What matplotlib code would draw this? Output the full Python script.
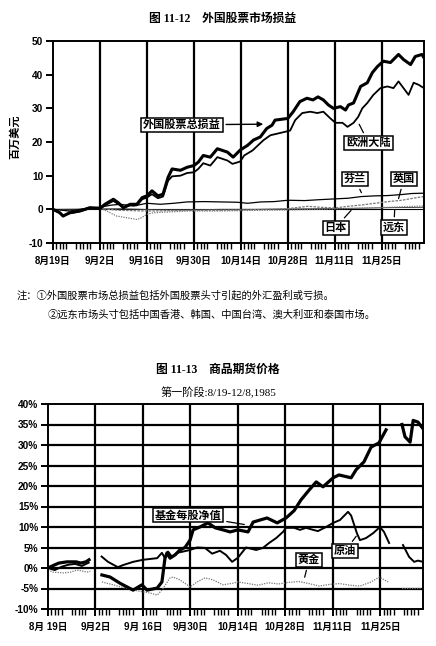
import numpy as np
import matplotlib
matplotlib.use("Agg")
import matplotlib.pyplot as plt

plt.rcParams['font.family'] = ['Liberation Sans', 'Noto Sans CJK SC']
plt.rcParams['axes.unicode_minus'] = False

# ---- 图 11-12 外国股票市场损益 (x = 自8月19日起的天数, 百万美元) ----
total_days = [0, 2, 3, 5, 8, 11, 14, 15.5, 18, 19.4, 21, 23, 25, 26.6, 28, 29.5, 31.3, 32.8, 34.3, 35.5,
              38, 40, 42, 43.3, 44.8, 46.9, 49, 52, 53.7, 55.8, 58, 59.8, 61.8, 63.7, 65.3, 66.2, 70,
              71.6, 73.6, 75.7, 77.5, 79, 80.6, 82.1, 83.6, 85.7, 87.2, 88.1, 89.6, 91.7, 93.7, 95.2,
              96.7, 98.5, 100.6, 103, 104.5, 106.6, 108, 110, 110.6]
total_vals = [0, -1, -2, -1, -0.5, 0.5, 0.3, 1.5, 3.0, 2, 0.5, 1.5, 1.5, 3.5, 4, 5.5, 4, 4.5, 9.5, 12,
              11.6, 12.5, 13, 14, 16, 15.5, 18, 17, 15.5, 17.6, 19, 20.6, 21.5, 24, 25, 26.5, 27,
              29, 32, 33, 32.5, 33.4, 32.5, 31, 30, 30.5, 29.5, 31, 31.6, 36.5, 37.6, 40.6,
              42.4, 44, 43.6, 46, 44.5, 43, 45.4, 46, 45]

europe_days = [0, 2, 3, 5, 8, 11, 14, 15.5, 18, 19.4, 21, 23, 25, 26.6, 28, 29.5, 31.3, 32.8, 34.3, 35.5,
               38, 40, 42, 43.3, 44.8, 46.9, 49, 52, 53.5, 55.8, 57, 59.5, 62.7, 64.8, 67.8, 70.7,
               72.2, 74.3, 76.7, 78.8, 80.6, 82.7, 84.2, 86.3, 87.8, 89.6, 91, 92.2, 93.7, 95.5,
               97.6, 99.7, 101.5, 103, 104.5, 106, 107.5, 109, 110.6]
europe_vals = [0, -1, -1.8, -1.2, -0.6, 0.3, 0.2, 1.2, 2.5, 1.6, 0.5, 1.2, 1.2, 3.0, 3.5, 4.5, 3.3, 3.8, 8.5, 9.8,
               10, 10.8, 11, 12, 13.7, 13, 15.5, 14.5, 13.5, 14.2, 16, 17.5, 20.5, 22, 22.7, 23.4,
               26.5, 28.6, 29, 28.6, 29, 27, 25.7, 25.7, 24.5, 25.7, 27.5, 30, 31.6, 34,
               36, 36.5, 36, 38, 36, 34, 37.6, 37, 36]

finland_days = [0, 5, 10, 14, 17, 20, 24, 28, 32, 36, 40, 45, 50, 55, 58, 62, 66, 70, 75, 80, 84, 88,
                92, 96, 100, 104, 107, 110.6]
finland_vals = [0, -0.5, 0.3, 0.6, 1.2, 1.5, 1.0, 1.8, 1.5, 1.8, 2.2, 2.3, 2.2, 2.1, 1.8, 2.2, 2.3, 2.7,
                2.6, 2.9, 3.1, 3.3, 3.8, 4.0, 4.1, 4.4, 4.7, 4.8]

uk_days = [14, 20, 28, 34, 40, 48, 56, 64, 70, 76, 80, 84, 88, 92, 96, 100, 104, 108, 110.6]
uk_vals = [0.2, -0.3, -0.5, -0.4, -0.3, -0.3, -0.2, 0.0, 0.2, 0.9, 0.6, 0.4, 0.9, 1.3, 1.8, 2.3, 2.7, 3.4, 3.8]

japan_days = [0, 5, 10, 14, 16, 19, 22, 25, 26, 28, 30, 34, 40, 50, 60, 70, 80, 90, 100, 110.6]
japan_vals = [0, -0.5, 0.3, 0.3, -0.5, -2, -2.5, -3, -2.7, -1.5, -1, -0.8, -0.5, -0.5, -0.3, -0.2, 0.0, 0.3, 0.6, 1.0]

fareast_days = [0, 10, 20, 30, 40, 50, 60, 70, 80, 90, 100, 110.6]
fareast_vals = [0, 0.1, 0.2, -0.1, -0.2, 0.0, 0.0, 0.1, 0.2, 0.3, 0.5, 0.6]

# ---- 图 11-13 商品期货价格 (%), None = 断开 ----
nav_days = [0, 1.8, 3.2, 5.6, 8.3, 9.7, 11.2, 12.1, 14,
            15.9, 18.3, 21.2, 25.1, 27.7, 29.2, 32.2, 33.6, 34.5, 35.1, 36, 37.5, 38.9, 40.4, 41.9,
            42.8, 44.8, 47.2, 49.3, 51.6, 53.7, 56, 59, 60.5, 64.6, 67.6, 70.2, 72.6, 74.6, 77,
            79.1, 81.1, 84.1, 85.8, 89.4, 90.9, 93.2, 95.3, 97.6, 99.7, 102,
            104.4, 105.3, 106.8, 107.7, 109.1, 110.6]
nav_vals = [0, 0.7, 1.2, 1.5, 1.5, 1.2, 1.5, 2, None,
            -1.7, -2.2, -3.7, -5.4, -4.1, -5.4, -4.9, -3.4, 2.4, 3.7, 2.4, 3.2, 4.4, 5, 6.8,
            9.3, 10, 11, 9.8, 9.3, 8.8, 9.3, 8.8, 11.2, 12.2, 11, 12.2, 14, 16.6, 19,
            21, 19.8, 22, 22.7, 22, 24, 25.9, 29.5, 30.5, 33.7, None,
            35, 32, 30.7, 36, 35.6, 34]

oil_days = [0, 2, 4, 6, 8, 10, 12, 14,
            15.8, 17.7, 20.6, 22.1, 25.1, 28, 32.2, 33.6, 34.5, 35.4, 36.6, 38, 39.8, 41.9, 44,
            46.3, 48.4, 50.7, 52.5, 54.3, 56, 58.4, 61.4, 63.4, 65.2, 67.3, 69.3, 70.2, 72.6, 74.3,
            76.1, 78.2, 79.6, 82, 84.1, 86.1, 88.5, 89.4, 91.1, 92, 93.8, 95.9, 97.9, 99.1, 100.6, 102,
            104.7, 106.5, 108, 109.1, 110.6]
oil_vals = [0, -0.5, 0.3, 0.8, 1.0, 0.5, 1.3, None,
            2.8, 1.5, 0.2, 0.7, 1.5, 2, 2.4, 3.7, 2.4, 4, 2.7, 3.7, 4, 4.4, 5.0,
            4.9, 3.5, 4.2, 3.2, 1.5, 2.5, 5.0, 4.4, 4.9, 6.1, 7.3, 8.8, 9.8, 9.8, 9.3,
            9.8, 9.3, 9.0, 10, 11, 11.7, 13.7, 12.8, 8.5, 6.8, 7.3, 8.5, 10, 8.8, 6.1, None,
            5.6, 2.7, 1.5, 1.8, 1.5]

gold_days = [0, 1.5, 4.6, 6.7, 8.6, 11.5, 12.5, 14,
             15.9, 19.2, 25.1, 30.1, 32.2, 33.6, 36, 36.9, 38.9, 41.9, 44, 46.3, 48.7, 51.6, 54.6,
             56, 59, 62, 65, 68, 71, 74, 77, 80, 83, 86, 89, 92, 95, 97.8, 99, 100.3, 102,
             104.4, 107, 110.6]
gold_vals = [-0.5, -1, -1.2, -1, -0.5, -1.0, -0.8, None,
             -3.4, -4.1, -5.4, -6.1, -6.6, -5.4, -2.4, -2.2, -2.9, -4.6, -3.4, -2.4, -2.9, -4.1, -3.7,
             -3.4, -3.8, -4.2, -3.6, -3.9, -3.5, -3.3, -3.8, -4.4, -4.0, -3.8, -4.2, -4.4, -3.5, -2.2, -2.8, -3.4, None,
             -5, -5, -5]

top_yticks = [-10, 0, 10, 20, 30, 40, 50]
bottom_yticks = [-10, -5, 0, 5, 10, 15, 20, 25, 30, 35, 40]
top_xlabels = ['8月19日', '9月2日', '9月16日', '9月30日', '10月14日', '10月28日', '11月11日', '11月25日']
bottom_xlabels = ['8月 19日', '9月2日', '9月 16日', '9月30日', '10月14日', '10月28日', '11月11日', '11月25日']

XMAX = 110.6
W, H = 436, 646
serif_cjk = ['Liberation Serif', 'Noto Sans CJK SC']
box = dict(boxstyle='square,pad=0.18', fc='white', ec='black', lw=1.1)


def setup_dates(ax, labels):
    ax.set_xlim(0, XMAX)
    ax.set_xticks(np.arange(0, 112, 14))
    ax.set_xticklabels(labels, fontsize=7, fontweight='bold')
    weekdays = [d for d in range(0, 111) if d % 7 < 5]
    ax.set_xticks(weekdays, minor=True)
    ax.tick_params(axis='x', which='major', length=5, width=1.4, pad=4)
    ax.tick_params(axis='x', which='minor', length=4, width=1.0)
    ax.tick_params(axis='y', length=5, width=1.4, pad=2, labelsize=7.3)
    for s in ax.spines.values():
        s.set_linewidth(1.4)
    for lab in ax.get_yticklabels():
        lab.set_fontweight('bold')


fig = plt.figure(figsize=(W / 100, H / 100), dpi=100)

# ================= 图 11-12 =================
ax1 = fig.add_axes([53 / W, 1 - 243 / H, 371 / W, 202 / H])
ax1.set_ylim(-10, 50)
ax1.set_yticks(top_yticks)
setup_dates(ax1, top_xlabels)
for d in range(14, 111, 14):
    ax1.axvline(d, color='black', lw=1.6, zorder=1)
ax1.axhline(0, color='black', lw=0.8, zorder=1)

ax1.plot(fareast_days, fareast_vals, color='#444444', lw=0.7, zorder=2)
ax1.plot(japan_days, japan_vals, color='#777777', lw=0.9, ls=(0, (1, 1)), zorder=2)
ax1.plot(uk_days, uk_vals, color='#777777', lw=0.9, ls=(0, (2, 1)), zorder=2)
ax1.plot(finland_days, finland_vals, color='black', lw=0.9, zorder=3)
ax1.plot(europe_days, europe_vals, color='black', lw=1.3, zorder=3)
ax1.plot(total_days, total_vals, color='black', lw=2.2, zorder=4)

lab_kw = dict(fontsize=8, fontweight='bold', ha='center', va='center', bbox=box, zorder=6)
ax1.annotate('外国股票总损益', xy=(63.5, 25.3), xytext=(38.4, 25.1),
             arrowprops=dict(arrowstyle='-|>', color='black', lw=1.0, mutation_scale=8), **lab_kw)
ax1.annotate('欧洲大陆', xy=(90.9, 26), xytext=(94.1, 19.7),
             arrowprops=dict(arrowstyle='-', color='black', lw=0.9), **lab_kw)
ax1.annotate('芬兰', xy=(92.3, 4.2), xytext=(90, 9),
             arrowprops=dict(arrowstyle='-', color='black', lw=0.9), **lab_kw)
ax1.annotate('英国', xy=(102.8, 2.4), xytext=(104.6, 9),
             arrowprops=dict(arrowstyle='-', color='black', lw=0.9), **lab_kw)
ax1.annotate('日本', xy=(89.4, 0.3), xytext=(84.3, -5.4),
             arrowprops=dict(arrowstyle='-', color='black', lw=0.9), **lab_kw)
ax1.annotate('远东', xy=(101.9, 0.6), xytext=(101.6, -5.4),
             arrowprops=dict(arrowstyle='-', color='black', lw=0.9), **lab_kw)

fig.text(223 / W, 1 - 19 / H, '图 11-12　外国股票市场损益', ha='center', va='center',
         fontsize=8.5, fontweight='bold', family=serif_cjk)
fig.text(15 / W, 1 - 137 / H, '百万美元', rotation=90, ha='center', va='center',
         fontsize=8, fontweight='bold', family=['Noto Sans CJK SC'])
fig.text(17 / W, 1 - 295 / H, '注：①外国股票市场总损益包括外国股票头寸引起的外汇盈利或亏损。',
         ha='left', va='center', fontsize=7.4, family=['Noto Sans CJK SC'])
fig.text(48 / W, 1 - 315 / H, '②远东市场头寸包括中国香港、韩国、中国台湾、澳大利亚和泰国市场。',
         ha='left', va='center', fontsize=7.4, family=['Noto Sans CJK SC'])

# ================= 图 11-13 =================
ax2 = fig.add_axes([48 / W, 1 - 609 / H, 375 / W, 205 / H])
ax2.set_ylim(-10, 40)
ax2.set_yticks(bottom_yticks)
ax2.set_yticklabels([f'{v}%' for v in bottom_yticks])
setup_dates(ax2, bottom_xlabels)
for d in range(14, 111, 14):
    ax2.axvline(d, color='black', lw=1.6, zorder=1)
for v in bottom_yticks[1:-1]:
    ax2.axhline(v, color='black', lw=1.6, zorder=1)

ax2.plot(gold_days, np.array(gold_vals, dtype=float), color='#777777', lw=0.9, ls=(0, (1, 1)), zorder=2)
ax2.plot(oil_days, np.array(oil_vals, dtype=float), color='black', lw=1.4, zorder=3)
ax2.plot(nav_days, np.array(nav_vals, dtype=float), color='black', lw=2.3, zorder=4)

ax2.annotate('基金每股净值', xy=(58.7, 10.5), xytext=(41.3, 12.9),
             arrowprops=dict(arrowstyle='-', color='black', lw=0.9), **lab_kw)
ax2.annotate('原油', xy=(91.4, 8.3), xytext=(87.6, 4.1),
             arrowprops=dict(arrowstyle='-', color='black', lw=0.9), **lab_kw)
ax2.annotate('黄金', xy=(75.5, -2.9), xytext=(77, 2),
             arrowprops=dict(arrowstyle='-', color='black', lw=0.9), **lab_kw)

fig.text(218 / W, 1 - 370 / H, '图 11-13　商品期货价格', ha='center', va='center',
         fontsize=8.5, fontweight='bold', family=serif_cjk)
fig.text(218 / W, 1 - 393 / H, '第一阶段:8/19-12/8,1985', ha='center', va='center',
         fontsize=8, family=serif_cjk)

fig.savefig('out.png', dpi=100)
